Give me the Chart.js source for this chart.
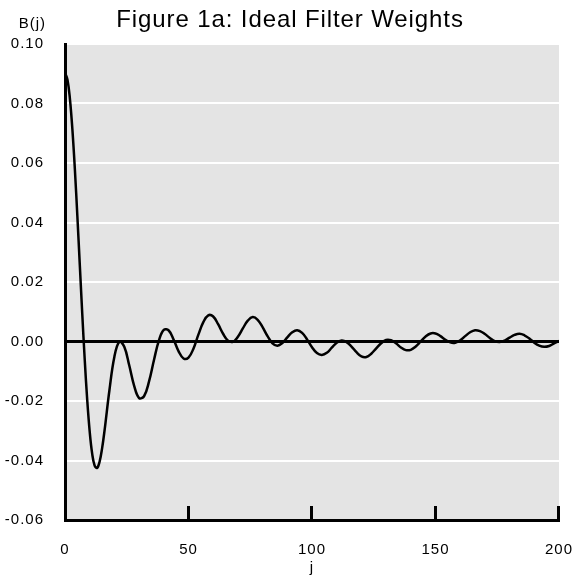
<!DOCTYPE html>
<html>
<head>
<meta charset="utf-8">
<script src="https://cdn.jsdelivr.net/npm/chart.js@4/dist/chart.umd.min.js"></script>
<style>
  html, body { margin: 0; padding: 0; background: #fff; }
  #wrap { width: 576px; height: 583px; }
</style>
</head>
<body>
<div id="wrap"><canvas id="weights"></canvas></div>
<script>
// lag j and the ideal band-pass weight B(j)
const jValues = [
  0, 1, 2, 3, 4, 5, 6, 7, 8, 9, 10, 11, 12, 13, 14, 15, 16,
  18, 20, 22, 24, 26, 28, 30, 32, 34, 36, 38, 40, 42, 44, 46, 48, 50,
  52, 54, 56, 58, 60, 62, 64, 66, 68, 70, 72, 74, 76, 78, 80, 82, 84,
  86, 88, 90, 92, 94, 96, 98, 100, 102, 104, 106, 108, 110, 112, 114, 116, 118,
  120, 122, 124, 126, 128, 130, 132, 134, 136, 138, 140, 142, 144, 146, 148, 150,
  152, 154, 156, 158, 160, 162, 164, 166, 168, 170, 172, 174, 176, 178, 180, 182,
  184, 186, 188, 190, 192, 194, 196, 198, 200
];
const weights = [
  0.0903, 0.0880, 0.0815, 0.0712, 0.0578, 0.0422, 0.0256, 0.0091, -0.0063, -0.0197, -0.0303, -0.0377, -0.0417, -0.0425, -0.0404, -0.0360, -0.0300,
  -0.0163, -0.0051, -0.0001, -0.0018, -0.0080, -0.0149, -0.0190, -0.0184, -0.0135, -0.0063, 0.0003, 0.0039, 0.0037, 0.0006, -0.0033, -0.0057, -0.0054,
  -0.0024, 0.0023, 0.0065, 0.0088, 0.0084, 0.0058, 0.0026, 0.0003, -0.0001, 0.0016, 0.0044, 0.0070, 0.0082, 0.0073, 0.0048, 0.0018, -0.0006,
  -0.0014, -0.0005, 0.0014, 0.0031, 0.0038, 0.0029, 0.0007, -0.0019, -0.0039, -0.0045, -0.0038, -0.0021, -0.0004, 0.0003, -0.0002, -0.0017, -0.0036,
  -0.0050, -0.0052, -0.0041, -0.0023, -0.0006, 0.0005, 0.0004, -0.0006, -0.0020, -0.0029, -0.0028, -0.0017, 0.0000, 0.0017, 0.0027, 0.0027,
  0.0018, 0.0006, -0.0003, -0.0004, 0.0004, 0.0018, 0.0031, 0.0038, 0.0035, 0.0025, 0.0012, 0.0001, -0.0002, 0.0003, 0.0013, 0.0022,
  0.0026, 0.0021, 0.0010, -0.0004, -0.0014, -0.0018, -0.0015, -0.0006, 0.0002
];

const xTicks = [0, 50, 100, 150, 200];
const yTicks = [-0.06, -0.04, -0.02, 0.00, 0.02, 0.04, 0.06, 0.08, 0.10];

const titleText = "Figure 1a: Ideal Filter Weights";
const yLabel = "B(j)";
const xLabel = "j";

const FONT = "'Liberation Sans', Arial, sans-serif";

// grey plot background, inward x ticks and the header texts
const decorations = {
  id: "decorations",
  beforeDraw(chart) {
    const { ctx, chartArea: a } = chart;
    ctx.save();
    ctx.fillStyle = "#e4e4e4";
    ctx.fillRect(a.left, a.top, a.right - a.left, a.bottom - a.top);
    ctx.restore();
    ctx.letterSpacing = "1px";
  },
  afterDraw(chart) {
    const { ctx, chartArea: a } = chart;
    const xs = chart.scales.x;
    ctx.save();
    ctx.strokeStyle = "#000";
    ctx.lineWidth = 3;
    xTicks.slice(1).forEach((v) => {
      const px = Math.round(xs.getPixelForValue(v)) - 0.5;
      ctx.beginPath();
      ctx.moveTo(px, a.bottom);
      ctx.lineTo(px, a.bottom - 14);
      ctx.stroke();
    });

    ctx.fillStyle = "#000";
    ctx.textBaseline = "middle";
    ctx.textAlign = "center";
    ctx.letterSpacing = "0.9px";
    ctx.font = "24px " + FONT;
    ctx.fillText(titleText, 290, 20);

    ctx.letterSpacing = "1px";
    ctx.font = "15px " + FONT;
    ctx.textAlign = "right";
    ctx.fillText(yLabel, 46, 24);
    ctx.restore();
  },
};

new Chart(document.getElementById("weights"), {
  type: "line",
  data: {
    datasets: [
      {
        data: jValues.map((j, i) => ({ x: j, y: weights[i] })),
        borderColor: "#000",
        borderWidth: 2.5,
        pointRadius: 0,
        tension: 0.4,
        fill: false,
      },
    ],
  },
  options: {
    responsive: true,
    maintainAspectRatio: false,
    animation: false,
    layout: { padding: { top: 44, right: 17, left: 0, bottom: 0 } },
    plugins: {
      legend: { display: false },
      tooltip: { enabled: false },
    },
    scales: {
      x: {
        type: "linear",
        min: 0,
        max: 200,
        afterBuildTicks: (s) => { s.ticks = xTicks.map((v) => ({ value: v })); },
        afterFit: (s) => {
          s.height = 63;
          s.paddingLeft = 0;
          s.paddingRight = 0;
        },
        grid: { display: false, drawTicks: false },
        border: { color: "#000", width: 3 },
        ticks: {
          color: "#000",
          padding: 21,
          font: { family: FONT, size: 15 },
          maxRotation: 0,
        },
        title: {
          display: true,
          text: xLabel,
          color: "#000",
          font: { family: FONT, size: 15 },
          padding: { top: 0, bottom: 6 },
        },
      },
      y: {
        min: -0.06,
        max: 0.1,
        afterBuildTicks: (s) => { s.ticks = yTicks.map((v) => ({ value: v })); },
        afterFit: (s) => {
          s.width = 65;
          s.paddingTop = 0;
          s.paddingBottom = 0;
        },
        grid: {
          drawTicks: false,
          color: (c) => (c.tick && Math.abs(c.tick.value) < 1e-9 ? "#000" : "#fff"),
          lineWidth: (c) => (c.tick && Math.abs(c.tick.value) < 1e-9 ? 3 : 2),
        },
        border: { color: "#000", width: 3 },
        ticks: {
          color: "#000",
          padding: 21,
          font: { family: FONT, size: 15 },
          callback: (v) => v.toFixed(2),
        },
      },
    },
  },
  plugins: [decorations],
});
</script>
</body>
</html>
